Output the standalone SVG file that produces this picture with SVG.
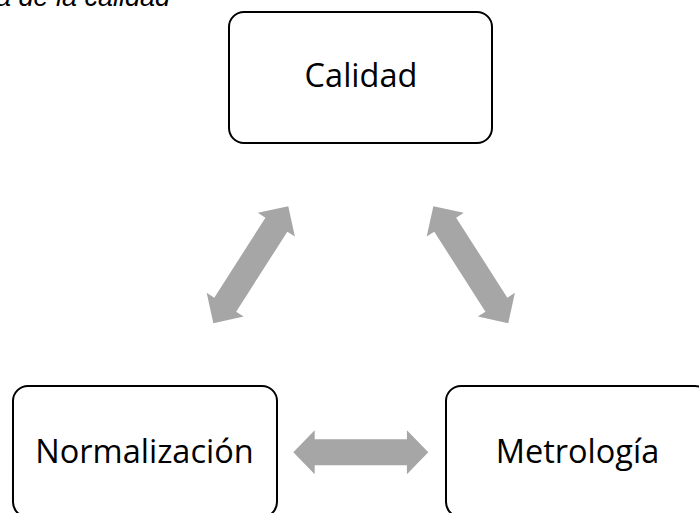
<svg xmlns="http://www.w3.org/2000/svg" width="699" height="513" viewBox="0 0 699 513">
  <style>
    .box { fill: #ffffff; stroke: #000000; stroke-width: 2; }
    .label { font-family: "Open Sans", "Noto Sans", "Liberation Sans", sans-serif; font-size: 32.5px; fill: #000000; text-anchor: middle; }
    .arrow { fill: #A6A6A6; stroke: none; }
    .caption { font-family: "Liberation Sans", Arial, sans-serif; font-style: italic; font-size: 27px; fill: #000000; }
  </style>
  <defs>
    <path id="dbl" d="M -69.5,0 L -47.5,-22 L -47.5,-13 L 47.5,-13 L 47.5,-22 L 69.5,0 L 47.5,22 L 47.5,13 L -47.5,13 L -47.5,22 Z"/>
  </defs>
  <rect width="699" height="513" fill="#ffffff"/>
  <text class="caption" x="-4" y="6">a de la calidad</text>
  <g id="connectors">
    <use href="#dbl" class="arrow" transform="translate(250.8,264.7) rotate(-57.4)"/>
    <use href="#dbl" class="arrow" transform="translate(470.8,264.7) rotate(57.4)"/>
    <use href="#dbl" class="arrow" transform="translate(360.8,452.3) scale(0.971,1)"/>
  </g>
  <g id="node-calidad">
    <rect class="box" x="229" y="12" width="263" height="131" rx="15" ry="15"/>
    <text class="label" x="361" y="87">Calidad</text>
  </g>
  <g id="node-normalizacion">
    <rect class="box" x="13" y="386" width="264" height="131" rx="15" ry="15"/>
    <text class="label" x="144.5" y="463">Normalización</text>
  </g>
  <g id="node-metrologia">
    <rect class="box" x="446" y="386" width="264" height="131" rx="15" ry="15"/>
    <text class="label" x="577.5" y="463">Metrología</text>
  </g>
</svg>
